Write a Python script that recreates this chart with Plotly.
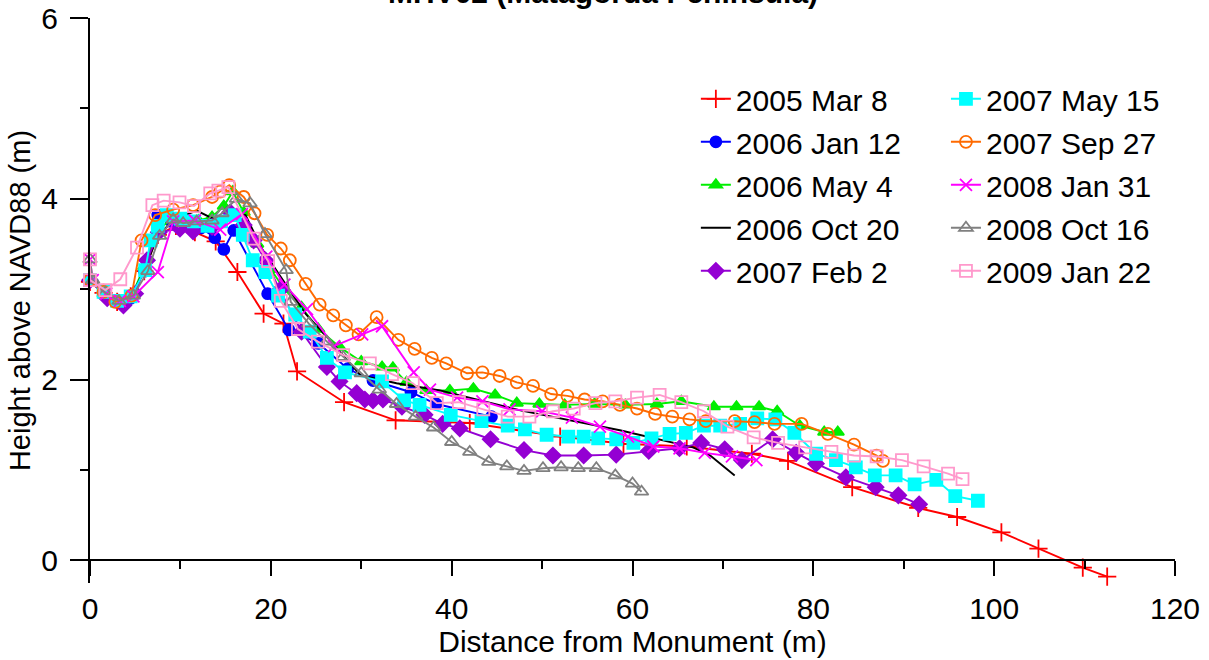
import plotly.graph_objects as go

# survey profiles (distance from monument in m, height above NAVD88 in m)
names = ["2005 Mar 8", "2006 Jan 12", "2006 May 4", "2006 Oct 20", "2007 Feb 2",
         "2007 May 15", "2007 Sep 27", "2008 Jan 31", "2008 Oct 16", "2009 Jan 22"]

x_2005_mar = [0, 1.5, 3, 4.5, 6, 7.5, 9.5, 11.6, 13.9, 16.3, 19.2, 21.4, 22.9, 28.1, 33.8, 42.0,
              52.0, 59.0, 66.0, 73.2, 77.2, 84.3, 91.6, 95.9, 100.8, 104.9, 109.8, 112.5]
y_2005_mar = [3.08, 2.96, 2.86, 2.92, 3.2, 3.6, 3.7, 3.63, 3.53, 3.19, 2.73, 2.62, 2.09, 1.75, 1.55, 1.52,
              1.37, 1.29, 1.26, 1.18, 1.10, 0.81, 0.58, 0.48, 0.31, 0.13, -0.08, -0.18]

x_2006_jan = [0, 1.5, 3, 4.5, 6, 7.5, 9, 10.5, 12.3, 13.8, 14.8, 15.9, 19.65, 22.0, 25.3, 28.5,
              31.3, 35.5, 38.3, 44.4]
y_2006_jan = [3.1, 2.96, 2.86, 2.9, 3.2, 3.82, 3.75, 3.72, 3.68, 3.57, 3.44, 3.65, 2.95, 2.55, 2.4, 2.12,
              1.99, 1.86, 1.73, 1.59]

x_2006_may = [0, 1.5, 3, 4.5, 6, 7.5, 9, 10.5, 12, 13.5, 14.8, 15.8, 17.0, 18.5, 20.0, 21.5, 23.4,
              25.25, 27.6, 30.0, 32.3, 33.5, 35.0, 37.2, 39.8, 42.4, 44.8, 47.2, 49.7, 52.5, 55.8,
              59.2, 62.7, 65.4, 69.0, 71.5, 74.0, 76.0, 78.5, 81.2, 82.7]
y_2006_may = [3.1, 2.95, 2.84, 2.9, 3.25, 3.65, 3.78, 3.75, 3.76, 3.8, 3.92, 4.08, 3.85, 3.5, 3.22, 3.0,
              2.80, 2.56, 2.36, 2.2, 2.14, 2.13, 1.97, 1.88, 1.88, 1.90, 1.83, 1.74, 1.73, 1.72, 1.73,
              1.72, 1.73, 1.76, 1.70, 1.70, 1.70, 1.65, 1.49, 1.42, 1.42]

x_2006_oct = [0, 1.5, 3, 4.5, 6, 7.5, 9.5, 11.8, 13.6, 14.8, 17.2, 19.0, 21.2, 23.9, 26.5, 29.9,
              33.9, 38.7, 47.6, 58.6, 66.7, 68.6, 71.3]
y_2006_oct = [3.1, 2.97, 2.87, 2.92, 3.2, 3.6, 3.78, 3.87, 3.78, 3.80, 3.82, 3.45, 3.12, 2.72, 2.44, 2.05,
              1.96, 1.88, 1.66, 1.44, 1.25, 1.16, 0.94]

x_2007_feb = [0, 1.9, 3.7, 5.0, 6.3, 7.6, 9.95, 11.4, 13.5, 15.5, 17.0, 18.1, 19.4, 21.0, 23.4, 26.2,
              27.6, 29.5, 30.4, 31.3, 32.4, 34.5, 37.0, 39.0, 40.9, 44.3, 48.0, 51.2, 54.6, 58.2,
              61.8, 65.2, 67.6, 70.2, 72.1, 75.5, 78.1, 80.3, 83.6, 86.9, 89.4, 91.7]
y_2007_feb = [3.1, 2.9, 2.82, 2.95, 3.32, 3.63, 3.67, 3.64, 3.69, 3.85, 3.71, 3.54, 3.32, 2.99, 2.53, 2.14,
              1.98, 1.85, 1.78, 1.77, 1.78, 1.70, 1.61, 1.51, 1.46, 1.34, 1.22, 1.16, 1.16, 1.17,
              1.21, 1.24, 1.30, 1.23, 1.11, 1.34, 1.19, 1.07, 0.92, 0.81, 0.72, 0.62]

x_2007_may = [0, 1.5, 3, 4.5, 6.1, 6.7, 7.5, 8.5, 10, 11.5, 13, 14.5, 16.0, 16.9, 18.0, 19.4, 20.8,
              22.7, 24.3, 26.2, 28.2, 32.3, 34.75, 36.45, 39.9, 43.3, 46.2, 48.1, 50.5, 52.9, 54.6,
              56.2, 58.2, 60.1, 62.1, 64.1, 65.9, 67.9, 69.7, 71.9, 73.8, 75.8, 77.9, 80.3, 82.5,
              84.7, 86.8, 89.1, 91.2, 93.6, 95.7, 98.2]
y_2007_may = [3.1, 2.97, 2.87, 2.92, 3.21, 3.54, 3.7, 3.82, 3.78, 3.75, 3.7, 3.75, 3.82, 3.60, 3.32, 3.19,
              2.93, 2.72, 2.53, 2.24, 2.08, 1.98, 1.77, 1.72, 1.61, 1.54, 1.49, 1.45, 1.39, 1.37, 1.37,
              1.35, 1.34, 1.30, 1.35, 1.40, 1.41, 1.49, 1.49, 1.51, 1.57, 1.56, 1.41, 1.18, 1.11,
              1.03, 0.94, 0.94, 0.84, 0.89, 0.71, 0.66]

x_2007_sep = [0, 1.5, 2.8, 4.6, 5.7, 7.2, 9.2, 11.4, 13.5, 14.4, 15.4, 17.0, 18.2, 19.6, 21.1, 22.1,
              23.85, 25.4, 26.9, 28.3, 29.7, 31.7, 34.1, 35.9, 37.8, 39.4, 41.7, 43.4, 45.3, 47.2,
              49.0, 51.0, 52.8, 54.7, 56.7, 58.6, 60.5, 62.5, 64.4, 66.3, 68.1, 71.3, 73.5, 75.7,
              78.7, 81.6, 84.5, 87.0, 87.7]
y_2007_sep = [3.1, 2.97, 2.86, 2.93, 3.54, 3.82, 3.88, 3.93, 4.02, 4.08, 4.15, 4.02, 3.84, 3.60, 3.45, 3.32,
              3.06, 2.83, 2.71, 2.60, 2.50, 2.69, 2.44, 2.34, 2.24, 2.18, 2.07, 2.08, 2.04, 1.97,
              1.93, 1.84, 1.82, 1.78, 1.76, 1.72, 1.68, 1.62, 1.59, 1.56, 1.54, 1.54, 1.53, 1.51,
              1.51, 1.40, 1.28, 1.16, 1.10]

x_2008_jan = [0, 0.3, 1.8, 3.3, 4.8, 7.5, 9.2, 11.6, 14.4, 16.8, 19.5, 21.5, 24.0, 27.0, 30.1, 32.3,
              35.8, 37.6, 40.6, 43.4, 46.4, 50.0, 53.3, 56.4, 59.5, 62.3, 65.2, 68.0, 71.0, 73.7]
y_2008_jan = [3.33, 3.1, 2.95, 2.87, 2.92, 3.19, 3.75, 3.76, 3.66, 3.83, 3.36, 3.05, 2.78, 2.37, 2.50, 2.59,
              2.08, 1.89, 1.80, 1.76, 1.67, 1.65, 1.58, 1.48, 1.37, 1.26, 1.24, 1.19, 1.15, 1.11]

x_2008_oct = [0, 0.3, 1.7, 3.2, 4.8, 6.4, 7.7, 9.2, 10.3, 11.8, 13.5, 14.6, 16.2, 17.7, 19.35, 21.7,
              22.2, 24.2, 26.2, 28.0, 30.0, 32.0, 33.9, 36.0, 38.0, 40.0, 42.0, 44.1, 46.1, 48.0,
              50.1, 52.1, 54.0, 56.0, 58.1, 60.0, 61.0]
y_2008_oct = [3.33, 3.1, 2.96, 2.87, 2.93, 3.20, 3.59, 3.77, 3.73, 3.75, 3.76, 3.84, 4.0, 3.95, 3.61, 3.21,
              2.86, 2.62, 2.42, 2.25, 2.07, 1.89, 1.73, 1.59, 1.47, 1.31, 1.20, 1.09, 1.04, 0.99,
              1.02, 1.03, 1.02, 1.02, 0.94, 0.85, 0.76]

x_2009_jan = [0, 0, 1.7, 3.35, 5.2, 6.9, 8.15, 9.9, 11.5, 13.3, 14.2, 15.3, 18.1, 19.7, 21.1, 23.0,
              25.2, 28.0, 30.95, 33.4, 35.7, 38.35, 40.8, 43.5, 46.2, 48.6, 51.2, 53.5, 55.9, 58.1,
              60.5, 63.0, 65.4, 67.9, 70.5, 73.4, 76.1, 79.1, 82.0, 84.5, 87.0, 89.8, 92.2, 94.9, 96.5]
y_2009_jan = [3.33, 3.1, 2.99, 3.11, 3.46, 3.93, 3.98, 3.96, 3.92, 4.06, 4.09, 4.13, 3.56, 3.31, 2.87, 2.56,
              2.42, 2.27, 2.18, 2.06, 1.96, 1.74, 1.75, 1.67, 1.59, 1.59, 1.65, 1.68, 1.74, 1.76,
              1.80, 1.83, 1.75, 1.65, 1.48, 1.36, 1.30, 1.25, 1.20, 1.16, 1.15, 1.11, 1.04, 0.96, 0.90]

xs = [x_2005_mar, x_2006_jan, x_2006_may, x_2006_oct, x_2007_feb,
      x_2007_may, x_2007_sep, x_2008_jan, x_2008_oct, x_2009_jan]
ys = [y_2005_mar, y_2006_jan, y_2006_may, y_2006_oct, y_2007_feb,
      y_2007_may, y_2007_sep, y_2008_jan, y_2008_oct, y_2009_jan]

colors = ["#ff0000", "#0000ff", "#00ee00", "#000000", "#9400d3",
          "#00ffff", "#ff6a00", "#ff00ff", "#808080", "#ff99cc"]
symbols = ["cross-thin-open", "circle", "triangle-up", None, "diamond",
           "square", "circle-open", "x-thin-open", "triangle-up-open", "square-open"]
sizes = [13, 11, 11, 0, 12, 12, 12, 12, 12, 12]

FONT = "Liberation Sans, Arial, sans-serif"

fig = go.Figure()
for i in range(len(names)):
    if symbols[i] is None:
        mode = "lines"
        marker = None
    else:
        mode = "lines+markers"
        marker = dict(symbol=symbols[i], size=sizes[i], color=colors[i],
                      line=dict(color=colors[i], width=1.8))
    fig.add_trace(go.Scatter(
        x=xs[i], y=ys[i], name=names[i], mode=mode, marker=marker,
        line=dict(color=colors[i], width=1.9),
        legend="legend" if i < 5 else "legend2",
        legendgroup=names[i],
        cliponaxis=False,
    ))

legend_common = dict(font=dict(family=FONT, size=30, color="black"),
                     bgcolor="rgba(0,0,0,0)", xanchor="left", yanchor="top",
                     tracegroupgap=1, traceorder="grouped")

fig.update_layout(
    width=1209, height=660,
    margin=dict(l=90, r=34, t=18, b=77, autoexpand=False),
    paper_bgcolor="white", plot_bgcolor="white",
    font=dict(family=FONT, size=30, color="black"),
    showlegend=True,
    legend=dict(x=0.5584, y=0.903, **legend_common),
    legend2=dict(x=0.7889, y=0.903, **legend_common),
    xaxis=dict(
        range=[0, 120], tick0=0, dtick=20, showgrid=False, zeroline=False,
        showline=True, linecolor="black", linewidth=2, automargin=False,
        ticks="outside", ticklen=15, tickwidth=2, tickcolor="black",
        minor=dict(dtick=10, ticks="outside", ticklen=8, tickwidth=2, tickcolor="black"),
        anchor="free", position=0.25 / 6.25, ticklabelstandoff=7,
        tickfont=dict(size=30),
        title=dict(text="Distance from Monument (m)", standoff=0, font=dict(size=30)),
    ),
    yaxis=dict(
        range=[-0.25, 6], tick0=0, dtick=2, showgrid=False, zeroline=False,
        showline=True, linecolor="black", linewidth=2, automargin=False,
        ticks="outside", ticklen=18, tickwidth=2, tickcolor="black",
        minor=dict(dtick=1, ticks="outside", ticklen=8, tickwidth=2, tickcolor="black"),
        ticklabelstandoff=6, ticklabeloverflow="allow",
        tickfont=dict(size=30),
        title=dict(text="Height above NAVD88 (m)", standoff=2, font=dict(size=29)),
    ),
)

# title sits mostly above the page edge in the original
fig.add_annotation(text="<b>MHV02 (Matagorda Peninsula)</b>", xref="paper", yref="paper",
                   x=0.4724, y=1.0455, xanchor="center", yanchor="middle", showarrow=False,
                   font=dict(family=FONT, size=30, color="black"))

# drop the default body margin so the figure sits at the page corner
fig.write_html("out.html", config={"displayModeBar": False},
               post_script="document.body.style.margin='0';")
